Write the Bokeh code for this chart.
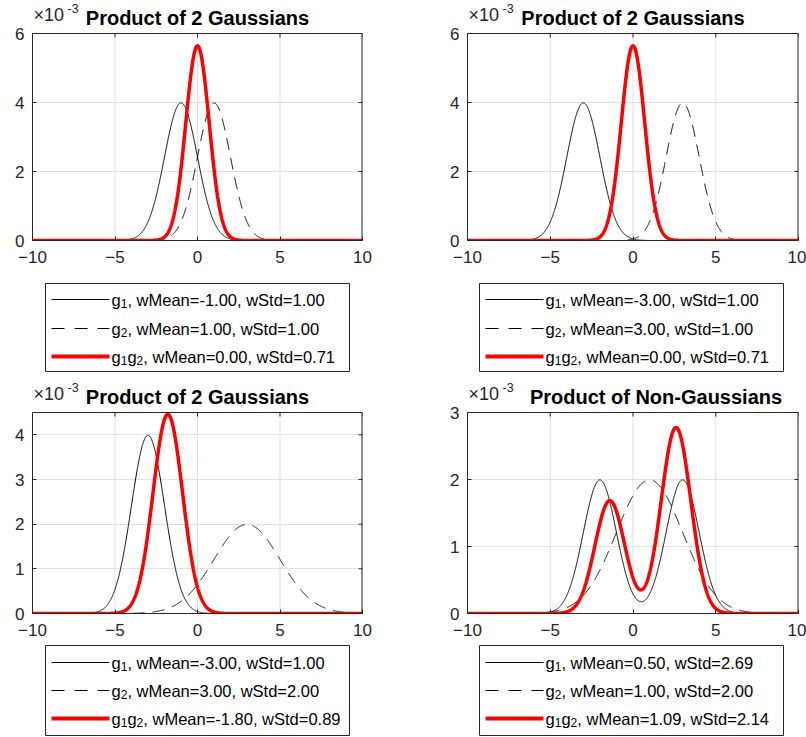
import numpy as np
from bokeh.plotting import figure
from bokeh.layouts import column, row
from bokeh.models import Range1d, FixedTicker
from bokeh.embed import file_html
from bokeh.resources import INLINE
from bokeh.core.properties import value

# ---------------- data (parameters as printed in each legend) ----------------
titles = ["Product of 2 Gaussians", "Product of 2 Gaussians",
          "Product of 2 Gaussians", "Product of Non-Gaussians"]
# g1 may be a mixture of Gaussian components
g1_means = [[-1.0], [-3.0], [-3.0], [-2.0, 3.0]]
g1_stds = [[1.0], [1.0], [1.0], [1.0, 1.0]]
g1_weights = [[1.0], [1.0], [1.0], [0.5, 0.5]]
g2_means = [1.0, 3.0, 3.0, 1.0]
g2_stds = [1.0, 1.0, 2.0, 2.0]
x_lo, x_hi, n_samples = -10.0, 10.0, 2001
x_ticks = [-10, -5, 0, 5, 10]
y_max = [6, 6, 4.5, 3]                       # in units of 1e-3
y_ticks = [[0, 2, 4, 6], [0, 2, 4, 6], [0, 1, 2, 3, 4], [0, 1, 2, 3]]
y_scale_label = ["\u00d710", "-3"]
legend_g1 = [", wMean=-1.00, wStd=1.00", ", wMean=-3.00, wStd=1.00",
             ", wMean=-3.00, wStd=1.00", ", wMean=0.50, wStd=2.69"]
legend_g2 = [", wMean=1.00, wStd=1.00", ", wMean=3.00, wStd=1.00",
             ", wMean=3.00, wStd=2.00", ", wMean=1.00, wStd=2.00"]
legend_prod = [", wMean=0.00, wStd=0.71", ", wMean=0.00, wStd=0.71",
               ", wMean=-1.80, wStd=0.89", ", wMean=1.09, wStd=2.14"]

FONT = "Liberation Sans"
AX = "#262626"
GRID = "#e1e1e1"
W = 403

x = np.linspace(x_lo, x_hi, n_samples)


def density(means, stds, weights):
    y = np.zeros_like(x)
    for m, s, w in zip(means, stds, weights):
        y += w * np.exp(-0.5 * ((x - m) / s) ** 2) / (s * np.sqrt(2 * np.pi))
    return y / y.sum()


def borders(left_side):
    # (left border, right border) of every figure in a column
    return (32, 41) if left_side else (64, 8)


def style_axis(ax, ticks, standoff):
    ax.ticker = FixedTicker(ticks=ticks)
    ax.major_tick_in = 4
    ax.major_tick_out = 0
    ax.minor_tick_in = 0
    ax.minor_tick_out = 0
    ax.axis_line_color = AX
    ax.major_tick_line_color = AX
    ax.major_label_text_color = AX
    ax.major_label_text_font = FONT
    ax.major_label_text_font_size = "17px"
    ax.major_label_standoff = standoff


def make_plot(i, left_side, top_row):
    bl, br = borders(left_side)
    head = 33 if top_row else 32          # pixels above the axes box (title area)
    box_h = 207 if top_row else 201       # height of the axes box
    bottom = 35 if top_row else 31
    fw = W - bl - br
    ymax = y_max[i]
    px = ymax / box_h                     # data units per pixel (vertical)
    p = figure(width=W, height=head + box_h + bottom,
               x_range=Range1d(x_lo, x_hi),
               y_range=Range1d(0, ymax + head * px),
               output_backend="svg", toolbar_location=None,
               min_border_left=bl, min_border_right=br,
               min_border_top=0, min_border_bottom=bottom)
    p.background_fill_color = "white"
    p.border_fill_color = "white"
    p.outline_line_color = None
    style_axis(p.xaxis[0], x_ticks, 10)
    style_axis(p.yaxis[0], y_ticks[i], 8)
    p.yaxis[0].bounds = (0, ymax)
    p.xgrid.visible = False
    p.ygrid.ticker = FixedTicker(ticks=y_ticks[i])
    p.ygrid.grid_line_color = GRID
    p.ygrid.grid_line_width = 1

    nx = len(x_ticks)
    ny = len(y_ticks[i])
    # vertical grid lines limited to the axes box
    p.segment(x0=x_ticks, y0=[0] * nx, x1=x_ticks, y1=[ymax] * nx,
              line_color=GRID, line_width=1)

    g1 = density(g1_means[i], g1_stds[i], g1_weights[i])
    g2 = density([g2_means[i]], [g2_stds[i]], [1.0])
    prod = g1 * g2
    prod = prod / prod.sum()

    p.line(x, g1 * 1e3, line_color="black", line_width=1)
    p.line(x, g2 * 1e3, line_color="black", line_width=1, line_dash="12 8")
    p.line(x, prod * 1e3, line_color="red", line_width=3.5)

    # top and right edges of the box, with inward ticks
    dx = 4.0 * (x_hi - x_lo) / fw
    p.segment(x0=[x_lo], y0=[ymax], x1=[x_hi], y1=[ymax],
              line_color=AX, line_width=1)
    p.segment(x0=[x_hi], y0=[0], x1=[x_hi], y1=[ymax],
              line_color=AX, line_width=2)
    p.segment(x0=x_ticks, y0=[ymax] * nx, x1=x_ticks,
              y1=[ymax - 4 * px] * nx, line_color=AX, line_width=1)
    p.segment(x0=[x_hi] * ny, y0=y_ticks[i], x1=[x_hi - dx] * ny,
              y1=y_ticks[i], line_color=AX, line_width=1)

    # exponent label and title above the box (centres, in pixels above box)
    p.text(x=[x_lo], y=[ymax + 19 * px], text=[y_scale_label[0]], x_offset=1,
           text_font=value(FONT), text_font_size="18px", text_color=AX,
           text_align="left", text_baseline="middle")
    p.text(x=[x_lo], y=[ymax + 25 * px], text=[y_scale_label[1]], x_offset=35,
           text_font=value(FONT), text_font_size="12.5px", text_color=AX,
           text_align="left", text_baseline="middle")
    shift = 23 if i == 3 else 0
    p.text(x=[0.5 * (x_lo + x_hi)], y=[ymax + 15.5 * px], text=[titles[i]],
           x_offset=shift, text_font=value(FONT), text_font_size="20px",
           text_font_style="bold", text_color="black",
           text_align="center", text_baseline="middle")
    return p


def make_legend(i, left_side, top_row):
    bl_, br_ = borders(left_side)
    h = 105 if top_row else 93
    # x in figure pixels
    lf = figure(width=W, height=h, x_range=Range1d(bl_, W - br_),
                y_range=Range1d(0, h), x_axis_type=None, y_axis_type=None,
                min_border_left=bl_, min_border_right=br_,
                min_border_top=0, min_border_bottom=0,
                toolbar_location=None, output_backend="svg")
    lf.outline_line_color = None
    lf.grid.visible = False
    bl = 45 if left_side else 76
    bw = 304
    if top_row:
        btop, bbot, rows = 97, 9, [81, 52, 24]
    else:
        btop, bbot, rows = 92, 2, [75, 47, 19]
    lf.quad(left=[bl], right=[bl + bw], top=[btop], bottom=[bbot],
            fill_color="white", line_color=AX, line_width=1)
    l0, l1, tx = bl + 6, bl + 64, bl + 66
    lf.line([l0, l1], [rows[0]] * 2, line_color="black", line_width=1)
    lf.line([l0, l1], [rows[1]] * 2, line_color="black", line_width=1,
            line_dash="13 10")
    lf.line([l0, l1], [rows[2]] * 2, line_color="red", line_width=4)

    gw, sw, sub = 9.2, 6.7, 4
    main_x = [tx, tx + gw + sw, tx, tx + gw + sw, tx, tx + gw + sw,
              tx + 2 * (gw + sw)]
    main_y = [rows[0], rows[0], rows[1], rows[1], rows[2], rows[2], rows[2]]
    main_t = ["g", legend_g1[i], "g", legend_g2[i], "g", "g", legend_prod[i]]
    lf.text(x=main_x, y=main_y, text=main_t, text_font=value(FONT),
            text_font_size="16.5px", text_color="black",
            text_align="left", text_baseline="middle")
    sub_x = [tx + gw, tx + gw, tx + gw, tx + 2 * gw + sw]
    sub_y = [rows[0] - sub, rows[1] - sub, rows[2] - sub, rows[2] - sub]
    sub_t = ["1", "2", "1", "2"]
    lf.text(x=sub_x, y=sub_y, text=sub_t, text_font=value(FONT),
            text_font_size="12px", text_color="black",
            text_align="left", text_baseline="middle")
    return lf


cells = []
for i in range(4):
    left_side = i % 2 == 0
    top_row = i < 2
    cells.append(column(make_plot(i, left_side, top_row),
                        make_legend(i, left_side, top_row)))

p = column(row(cells[0], cells[1]), row(cells[2], cells[3]))

open("out.html", "w").write(file_html(p, INLINE))
